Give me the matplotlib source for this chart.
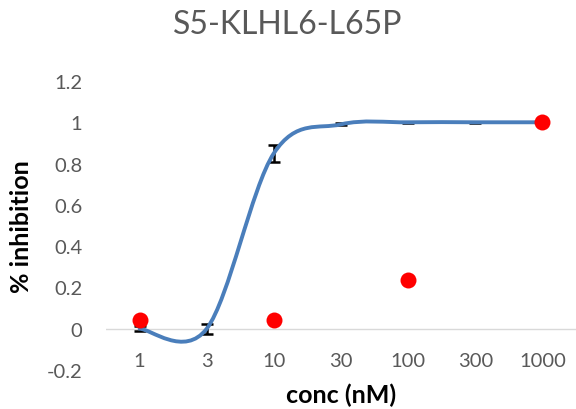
import numpy as np
import matplotlib.pyplot as plt
from matplotlib.path import Path
from matplotlib.patches import PathPatch

conc_labels = ["1", "3", "10", "30", "100", "300", "1000"]
fit_values = [0.0, 0.0, 0.85, 0.99, 1.0, 1.0, 1.0]
fit_errors = [0.012, 0.025, 0.04, 0.005, 0.003, 0.003, 0.003]
pt_labels = ["1", "10", "100", "1000"]
pt_values = [0.04, 0.04, 0.234, 1.0]

plt.rcParams['font.family'] = ['Lato', 'DejaVu Sans']
plt.rcParams['xtick.major.pad'] = 17
plt.rcParams['ytick.major.pad'] = 17
plt.rcParams['xtick.major.size'] = 0
plt.rcParams['ytick.major.size'] = 0


def excel_smooth(xs, ys):
    # bezier path like excel's "smoothed line"
    pts = np.column_stack([xs, ys]).astype(float)
    n = len(pts)
    verts = [pts[0]]
    codes = [Path.MOVETO]
    for i in range(n - 1):
        p0 = pts[max(i - 1, 0)]
        p1 = pts[i]
        p2 = pts[i + 1]
        p3 = pts[min(i + 2, n - 1)]
        c1 = p1 + (p2 - p0) / 6
        c2 = p2 - (p3 - p1) / 6
        verts += [c1, c2, p2]
        codes += [Path.CURVE4] * 3
    return Path(verts, codes)


W, H = 576, 410
fig = plt.figure(figsize=(W / 100, H / 100), dpi=100)
ax = fig.add_axes([106 / W, 1 - 371 / H, 470 / W, 289 / H])

x = np.arange(len(conc_labels))
xp = [conc_labels.index(c) for c in pt_labels]

ax.axhline(0, color="#d9d9d9", lw=1, zorder=1)
ax.errorbar(x, fit_values, yerr=fit_errors, fmt="none", ecolor="black",
            elinewidth=1.8, capsize=4, capthick=1.8, zorder=2)
ax.add_patch(PathPatch(excel_smooth(x, fit_values), fill=False,
                       edgecolor="#4a7ebb", lw=2.8, capstyle="round", zorder=3))
ax.plot(xp, pt_values, "o", color="#ff0000", ms=11.5, mec="none", zorder=4)

ax.set_xlim(-0.5, len(conc_labels) - 0.5)
ax.set_ylim(-0.2, 1.2)
ax.set_xticks(x, conc_labels)
ax.set_yticks(np.arange(-0.2, 1.21, 0.2), ["-0.2", "0", "0.2", "0.4", "0.6", "0.8", "1", "1.2"])
# excel puts the category labels next to the axis at y = 0
ax.spines["bottom"].set_position(("data", 0))
for s in ax.spines.values():
    s.set_visible(False)
ax.tick_params(labelsize=14.5, labelcolor="#595959")

fig.text(341 / W, 1 - 395 / H, "conc (nM)", fontsize=18, fontweight="bold",
         ha="center", va="center")
fig.text(22 / W, 1 - 227 / H, "% inhibition", fontsize=18, fontweight="bold",
         ha="center", va="center", rotation=90)
fig.text(0.5, 1 - 25 / H, "S5-KLHL6-L65P", fontsize=23, color="#595959",
         ha="center", va="center")

fig.savefig("out.png", dpi=100)
